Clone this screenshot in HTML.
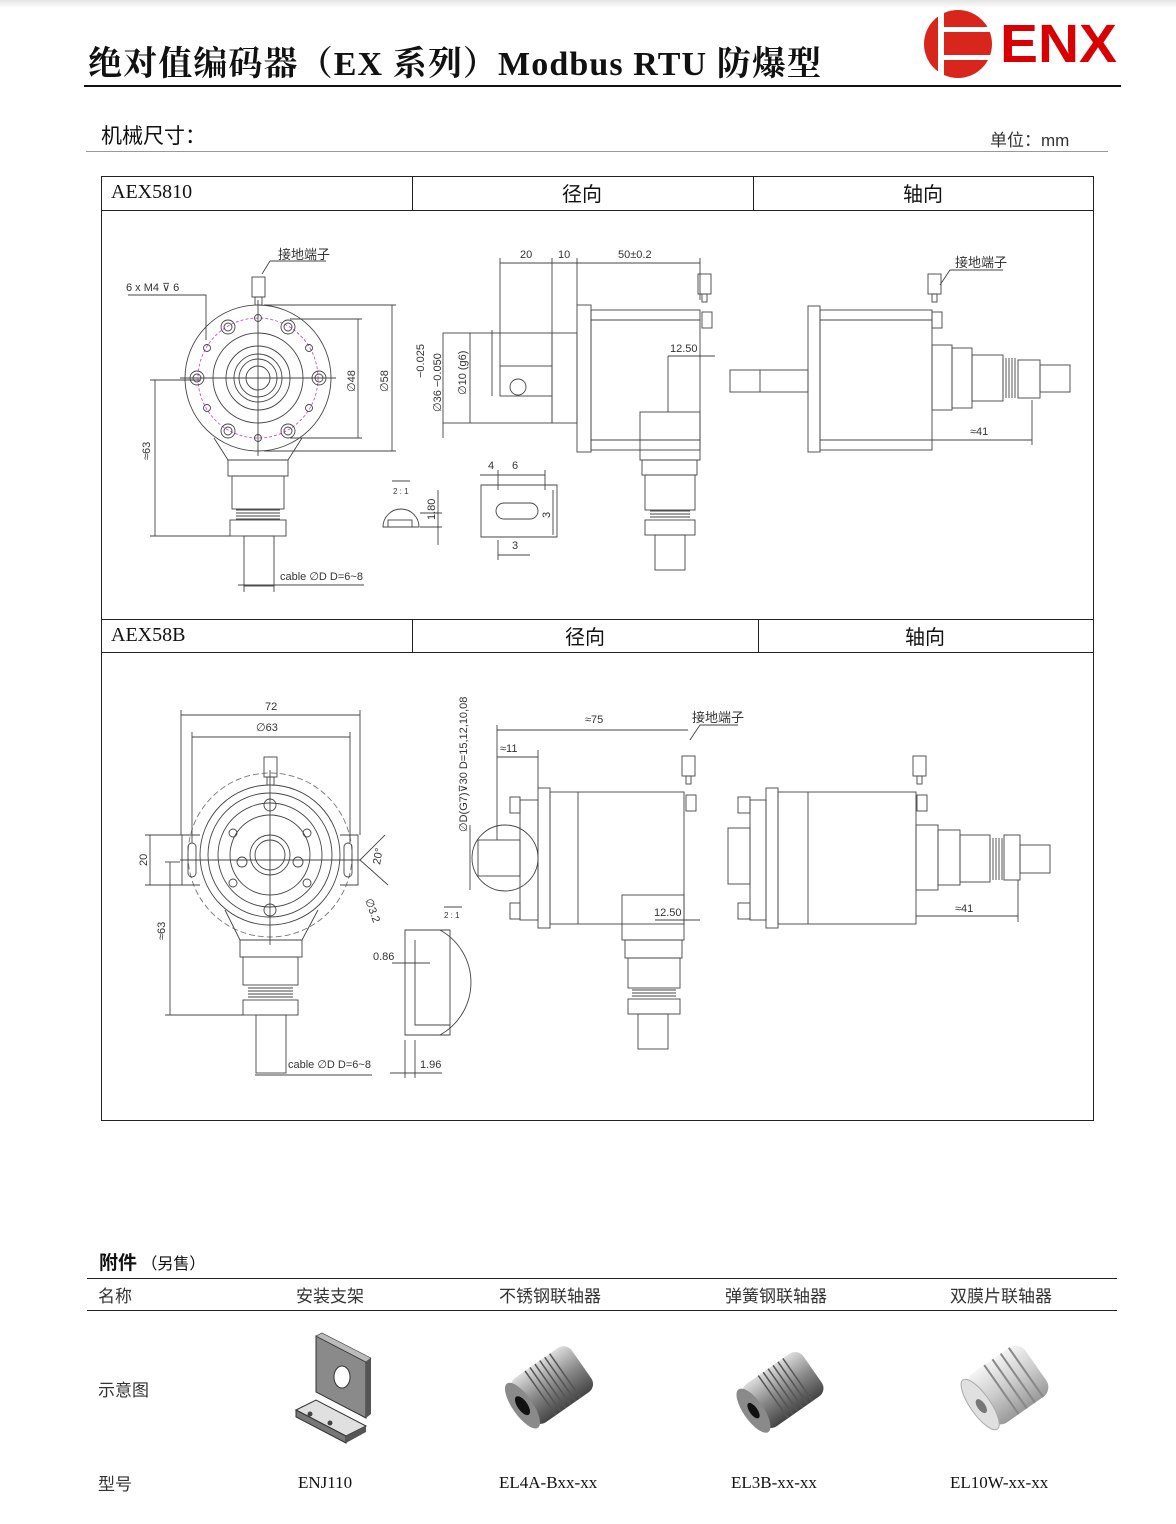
<!DOCTYPE html>
<html><head><meta charset="utf-8">
<style>
html,body{margin:0;padding:0;background:#fff;}
body{width:1176px;height:1524px;position:relative;overflow:hidden;font-family:"Liberation Serif","Noto Serif CJK SC",serif;}
svg{position:absolute;left:0;top:0;}
.t{position:absolute;white-space:nowrap;color:#111;}
</style></head><body>
<div style="position:absolute;left:0;top:0;width:1176px;height:8px;background:linear-gradient(#e4e4e4,#fff)"></div>
<div class="t" style="left:88px;top:36px;font-size:34px;letter-spacing:1.1px;font-weight:bold;font-family:'Liberation Serif','Noto Serif CJK SC',serif;">绝对值编码器（EX 系列）Modbus RTU 防爆型</div>
<div class="t" style="left:101px;top:120px;font-size:21px;font-family:'Liberation Sans','Noto Sans CJK SC',sans-serif;">机械尺寸：</div>
<div class="t" style="left:990px;top:126px;font-size:17px;color:#333;font-family:'Liberation Sans','Noto Sans CJK SC',sans-serif;">单位：mm</div>

<div class="t" style="left:111px;top:181px;font-size:20px;">AEX5810</div>
<div class="t" style="left:562px;top:178px;font-size:20px;font-family:'Noto Sans CJK SC',sans-serif;">径向</div>
<div class="t" style="left:903px;top:178px;font-size:20px;font-family:'Noto Sans CJK SC',sans-serif;">轴向</div>
<div class="t" style="left:111px;top:624px;font-size:20px;">AEX58B</div>
<div class="t" style="left:565px;top:621px;font-size:20px;font-family:'Noto Sans CJK SC',sans-serif;">径向</div>
<div class="t" style="left:905px;top:621px;font-size:20px;font-family:'Noto Sans CJK SC',sans-serif;">轴向</div>

<div class="t" style="left:99px;top:1248px;font-size:19px;font-weight:bold;font-family:'Noto Sans CJK SC',sans-serif;">附件 <span style="font-size:16px;font-weight:normal">（另售）</span></div>
<div class="t" style="left:98px;top:1282px;font-size:17px;color:#333;font-family:'Noto Sans CJK SC',sans-serif;">名称</div>
<div class="t" style="left:296px;top:1282px;font-size:17px;color:#333;font-family:'Noto Sans CJK SC',sans-serif;">安装支架</div>
<div class="t" style="left:499px;top:1282px;font-size:17px;color:#333;font-family:'Noto Sans CJK SC',sans-serif;">不锈钢联轴器</div>
<div class="t" style="left:725px;top:1282px;font-size:17px;color:#333;font-family:'Noto Sans CJK SC',sans-serif;">弹簧钢联轴器</div>
<div class="t" style="left:950px;top:1282px;font-size:17px;color:#333;font-family:'Noto Sans CJK SC',sans-serif;">双膜片联轴器</div>
<div class="t" style="left:98px;top:1376px;font-size:17px;color:#333;font-family:'Noto Sans CJK SC',sans-serif;">示意图</div>
<div class="t" style="left:98px;top:1470px;font-size:17px;color:#333;font-family:'Noto Sans CJK SC',sans-serif;">型号</div>
<div class="t" style="left:298px;top:1473px;font-size:17px;">ENJ110</div>
<div class="t" style="left:499px;top:1473px;font-size:17px;">EL4A-Bxx-xx</div>
<div class="t" style="left:731px;top:1473px;font-size:17px;">EL3B-xx-xx</div>
<div class="t" style="left:950px;top:1473px;font-size:17px;">EL10W-xx-xx</div>

<svg width="1176" height="1524" viewBox="0 0 1176 1524">
<defs>
<linearGradient id="met" x1="0" y1="0" x2="0" y2="1"><stop offset="0" stop-color="#ddd"/><stop offset=".5" stop-color="#888"/><stop offset="1" stop-color="#444"/></linearGradient>
<linearGradient id="met2" x1="0" y1="0" x2="0" y2="1"><stop offset="0" stop-color="#f4f4f4"/><stop offset=".5" stop-color="#ccc"/><stop offset="1" stop-color="#999"/></linearGradient>
</defs>
<rect x="84" y="85" width="1037" height="2" fill="#111"/>
<line x1="86" y1="151.5" x2="1108" y2="151.5" stroke="#999"/>
<circle cx="958" cy="44" r="34" fill="#d9261c"/>
<rect x="938" y="8" width="6" height="72" fill="#fff"/>
<rect x="944" y="27" width="50" height="5" fill="#fff"/>
<rect x="944" y="55" width="50" height="5" fill="#fff"/>
<text x="1000" y="62" font-family="Liberation Sans,sans-serif" font-weight="bold" font-size="54" fill="#d80000" textLength="117" lengthAdjust="spacingAndGlyphs">ENX</text>
<g fill="none" stroke="#222" stroke-width="1">
<rect x="101.5" y="176.5" width="992" height="944"/>
<line x1="101" y1="210.5" x2="1094" y2="210.5"/>
<line x1="412.5" y1="176" x2="412.5" y2="210"/>
<line x1="753.5" y1="176" x2="753.5" y2="210"/>
<line x1="101" y1="619.5" x2="1094" y2="619.5"/>
<line x1="101" y1="652.5" x2="1094" y2="652.5"/>
<line x1="412.5" y1="619" x2="412.5" y2="652"/>
<line x1="758.5" y1="619" x2="758.5" y2="652"/>
</g>
<g stroke="#222" stroke-width="1">
<line x1="87" y1="1278.5" x2="1117" y2="1278.5"/>
<line x1="87" y1="1310.5" x2="1117" y2="1310.5"/>
</g>

<g fill="none" stroke="#444" stroke-width="0.9" font-family="Liberation Sans,sans-serif">
<circle cx="258" cy="378" r="73"/>
<circle cx="258" cy="378" r="60" stroke="#d050d0" stroke-dasharray="3,2"/>
<circle cx="258" cy="378" r="45"/>
<circle cx="258" cy="378" r="32"/>
<circle cx="258" cy="378" r="24"/>
<circle cx="258" cy="378" r="19"/>
<circle cx="258" cy="378" r="12"/>
<g>
<circle cx="228" cy="327" r="7"/><circle cx="228" cy="327" r="4"/>
<circle cx="288" cy="327" r="7"/><circle cx="288" cy="327" r="4"/>
<circle cx="197" cy="378" r="7"/><circle cx="197" cy="378" r="4"/>
<circle cx="319" cy="378" r="7"/><circle cx="319" cy="378" r="4"/>
<circle cx="228" cy="431" r="7"/><circle cx="228" cy="431" r="4"/>
<circle cx="288" cy="431" r="7"/><circle cx="288" cy="431" r="4"/>
<circle cx="258" cy="318" r="3.5"/><circle cx="258" cy="438" r="3.5"/>
<circle cx="207" cy="348" r="3.5"/><circle cx="309" cy="348" r="3.5"/>
<circle cx="207" cy="408" r="3.5"/><circle cx="309" cy="408" r="3.5"/>
</g>
<line x1="180" y1="378" x2="336" y2="378"/><line x1="258" y1="300" x2="258" y2="456"/>
<rect x="252" y="277" width="13" height="20"/><rect x="255" y="297" width="7" height="8"/>
<path d="M214 438 L228 460 L288 460 L302 438"/>
<rect x="228" y="460" width="60" height="16"/>
<rect x="232" y="476" width="52" height="33"/>
<path d="M236 510 h44 M236 513 h44 M236 516 h44 M236 519 h44"/>
<rect x="230" y="520" width="56" height="16"/>
<rect x="244" y="536" width="30" height="50"/>
<line x1="150" y1="380" x2="200" y2="380"/><line x1="155" y1="380" x2="155" y2="536"/><line x1="150" y1="536" x2="230" y2="536"/>
<line x1="290" y1="319" x2="362" y2="319"/><line x1="290" y1="438" x2="362" y2="438"/><line x1="358" y1="319" x2="358" y2="438"/>
<line x1="264" y1="305" x2="396" y2="305"/><line x1="264" y1="451" x2="396" y2="451"/><line x1="392" y1="305" x2="392" y2="451"/>
<path d="M128 295 H206 V340"/>
<path d="M270 261 H326 M270 261 L262 274"/>
<line x1="244" y1="585" x2="244" y2="592"/><line x1="274" y1="585" x2="274" y2="592"/><line x1="238" y1="585" x2="364" y2="585"/>
<path d="M383 527 A18 18 0 0 1 419 527 Z"/><rect x="388" y="520" width="24" height="7"/>
<line x1="438" y1="490" x2="438" y2="545"/><line x1="420" y1="513" x2="442" y2="513"/><line x1="420" y1="527" x2="442" y2="527"/>
<line x1="392" y1="481" x2="410" y2="481"/>
<path d="M481 485 H557 V537 H481 Z"/>
<path d="M504 503 h26 a8 8 0 0 1 0 16 h-26 a8 8 0 0 1 0 -16 Z"/>
<line x1="480" y1="475" x2="545" y2="475"/><line x1="498" y1="470" x2="498" y2="490"/><line x1="545" y1="470" x2="545" y2="490"/>
<line x1="530" y1="555" x2="498" y2="555"/><line x1="498" y1="540" x2="498" y2="560"/>
<line x1="553" y1="490" x2="553" y2="535"/>
<rect x="443" y="333" width="109" height="90"/>
<rect x="500" y="366" width="52" height="30"/>
<circle cx="518" cy="387" r="8"/>
<rect x="552" y="333" width="25" height="90"/>
<rect x="577" y="305" width="14" height="147"/>
<rect x="591" y="310" width="109" height="140"/>
<line x1="591" y1="320" x2="700" y2="320"/><line x1="591" y1="440" x2="700" y2="440"/>
<rect x="640" y="412" width="60" height="48"/>
<rect x="642" y="460" width="55" height="15"/>
<rect x="645" y="475" width="50" height="35"/>
<path d="M650 511 h40 M650 514 h40 M650 517 h40"/>
<rect x="645" y="520" width="50" height="15"/>
<rect x="655" y="535" width="30" height="35"/>
<rect x="698" y="274" width="13" height="20"/><rect x="702" y="294" width="5" height="8"/>
<rect x="702" y="312" width="10" height="16"/>
<line x1="500" y1="258" x2="500" y2="366"/><line x1="552" y1="258" x2="552" y2="333"/><line x1="577" y1="258" x2="577" y2="305"/><line x1="700" y1="258" x2="700" y2="300"/>
<line x1="500" y1="263" x2="700" y2="263"/>
<line x1="443" y1="423" x2="443" y2="438"/>
<line x1="470" y1="333" x2="470" y2="423"/>
<line x1="492" y1="330" x2="492" y2="396"/>
<line x1="668" y1="356" x2="715" y2="356"/><line x1="668" y1="356" x2="668" y2="412"/>
<rect x="730" y="370" width="78" height="22"/>
<line x1="760" y1="370" x2="760" y2="392"/>
<rect x="808" y="306" width="12" height="146"/>
<rect x="820" y="310" width="112" height="140"/>
<line x1="820" y1="320" x2="932" y2="320"/><line x1="820" y1="440" x2="932" y2="440"/>
<rect x="932" y="345" width="20" height="65"/>
<rect x="952" y="348" width="20" height="60"/>
<rect x="972" y="355" width="31" height="46"/>
<path d="M1003 358 v40 M1006 358 v40 M1009 358 v40 M1012 358 v40 M1015 358 v40"/>
<rect x="1018" y="360" width="22" height="38"/>
<rect x="1040" y="365" width="30" height="27"/>
<rect x="928" y="274" width="13" height="20"/><rect x="932" y="294" width="5" height="8"/>
<rect x="932" y="312" width="10" height="16"/>
<path d="M940 285 L950 270 H1003"/>
<line x1="932" y1="440" x2="1032" y2="440"/><line x1="1032" y1="400" x2="1032" y2="445"/>
</g>
<g font-family="Liberation Sans,sans-serif" font-size="11" fill="#333">
<text x="278" y="259" font-family="Noto Sans CJK SC,sans-serif" font-size="13">接地端子</text>
<text x="126" y="291">6 x  M4 ⊽ 6</text>
<text x="955" y="267" font-family="Noto Sans CJK SC,sans-serif" font-size="13">接地端子</text>
<text x="520" y="258">20</text><text x="558" y="258">10</text><text x="618" y="258">50±0.2</text>
<text x="670" y="352">12.50</text>
<text x="970" y="435">≈41</text>
<text x="280" y="580">cable ∅D  D=6~8</text>
<text x="488" y="469">4</text><text x="512" y="469">6</text><text x="512" y="549">3</text>
<text transform="translate(150,460) rotate(-90)">≈63</text>
<text transform="translate(355,392) rotate(-90)">∅48</text>
<text transform="translate(388,392) rotate(-90)">∅58</text>
<text transform="translate(441,412) rotate(-90)">∅36 −0.050</text>
<text transform="translate(424,378) rotate(-90)">−0.025</text>
<text transform="translate(466,395) rotate(-90)">∅10 (g6)</text>
<text transform="translate(435,520) rotate(-90)">1.80</text>
<text transform="translate(550,518) rotate(-90)">3</text>
<text x="393" y="494" font-size="8">2 : 1</text>
</g>

<g fill="none" stroke="#444" stroke-width="0.9">
<circle cx="270" cy="855" r="70"/>
<circle cx="270" cy="855" r="62"/>
<circle cx="270" cy="855" r="52"/>
<circle cx="270" cy="855" r="40"/>
<circle cx="270" cy="855" r="20"/>
<circle cx="270" cy="855" r="15"/>
<circle cx="270" cy="855" r="82" stroke-dasharray="6,3" stroke="#777"/>
<path d="M200 835 h-18 v50 h18 M340 835 h18 v50 h-18"/>
<rect x="188" y="843" width="8" height="34" rx="4"/><rect x="344" y="843" width="8" height="34" rx="4"/>
<circle cx="270" cy="805" r="6"/><circle cx="270" cy="910" r="6"/>
<circle cx="233" cy="833" r="4"/><circle cx="307" cy="833" r="4"/><circle cx="233" cy="883" r="4"/><circle cx="307" cy="883" r="4"/>
<circle cx="298" cy="862" r="5"/><circle cx="242" cy="862" r="5"/>
<line x1="180" y1="860" x2="360" y2="860"/><line x1="270" y1="770" x2="270" y2="945"/>
<rect x="264" y="757" width="13" height="20"/><rect x="267" y="777" width="7" height="8"/>
<path d="M225 910 L240 940 H302 L318 910"/>
<rect x="240" y="940" width="62" height="17"/>
<rect x="243" y="957" width="55" height="28"/>
<path d="M248 988 h45 M248 991 h45 M248 994 h45 M248 997 h45"/>
<rect x="243" y="1000" width="55" height="15"/>
<rect x="256" y="1015" width="30" height="58"/>
<line x1="181" y1="715" x2="360" y2="715"/><line x1="181" y1="710" x2="181" y2="835"/><line x1="360" y1="710" x2="360" y2="835"/>
<line x1="192" y1="737" x2="350" y2="737"/><line x1="192" y1="732" x2="192" y2="843"/><line x1="350" y1="732" x2="350" y2="843"/>
<line x1="145" y1="835" x2="200" y2="835"/><line x1="145" y1="885" x2="200" y2="885"/><line x1="150" y1="835" x2="150" y2="885"/>
<line x1="165" y1="862" x2="180" y2="862"/><line x1="170" y1="862" x2="170" y2="1015"/><line x1="165" y1="1015" x2="243" y2="1015"/>
<line x1="255" y1="1075" x2="372" y2="1075"/>
<path d="M360 860 L385 835 M360 860 L388 885"/>
<path d="M405 930 h45 v105 h-45 Z"/><path d="M415 940 v85 h35"/>
<path d="M440 930 A60 60 0 0 1 440 1035"/>
<line x1="392" y1="963" x2="430" y2="963"/>
<line x1="390" y1="1073" x2="442" y2="1073"/><line x1="405" y1="1040" x2="405" y2="1078"/><line x1="415" y1="1040" x2="415" y2="1078"/>
<line x1="444" y1="907" x2="462" y2="907"/>
<circle cx="505" cy="858" r="33"/>
<rect x="520" y="800" width="18" height="120"/>
<rect x="538" y="788" width="12" height="140"/>
<rect x="550" y="792" width="134" height="132"/>
<line x1="578" y1="792" x2="578" y2="924"/>
<rect x="510" y="797" width="10" height="16"/><rect x="510" y="903" width="10" height="16"/>
<rect x="478" y="840" width="42" height="36"/>
<rect x="622" y="895" width="62" height="45"/>
<rect x="625" y="940" width="57" height="18"/>
<rect x="628" y="958" width="52" height="30"/>
<path d="M632 990 h44 M632 993 h44 M632 996 h44"/>
<rect x="628" y="999" width="52" height="15"/>
<rect x="638" y="1014" width="30" height="35"/>
<rect x="682" y="756" width="13" height="20"/><rect x="686" y="776" width="5" height="8"/>
<rect x="686" y="795" width="10" height="16"/>
<line x1="497" y1="725" x2="497" y2="840"/><line x1="497" y1="730" x2="688" y2="730"/>
<line x1="497" y1="757" x2="538" y2="757"/><line x1="538" y1="750" x2="538" y2="788"/>
<line x1="470" y1="825" x2="470" y2="890"/>
<path d="M690 740 L700 725 H738"/>
<line x1="655" y1="920" x2="700" y2="920"/>
<rect x="728" y="828" width="22" height="56"/>
<rect x="738" y="797" width="12" height="16"/><rect x="738" y="903" width="12" height="16"/>
<rect x="750" y="800" width="16" height="120"/>
<rect x="766" y="788" width="12" height="140"/>
<rect x="778" y="792" width="138" height="132"/>
<line x1="808" y1="792" x2="808" y2="924"/>
<rect x="916" y="825" width="22" height="65"/>
<rect x="938" y="830" width="22" height="55"/>
<rect x="960" y="835" width="30" height="47"/>
<path d="M990 838 v42 M993 838 v42 M996 838 v42 M999 838 v42 M1002 838 v42"/>
<rect x="1004" y="835" width="16" height="45"/>
<rect x="1020" y="845" width="30" height="28"/>
<rect x="913" y="756" width="13" height="20"/><rect x="917" y="776" width="5" height="8"/>
<rect x="917" y="795" width="10" height="16"/>
<line x1="916" y1="916" x2="1018" y2="916"/><line x1="1018" y1="880" x2="1018" y2="922"/>
</g>
<g font-family="Liberation Sans,sans-serif" font-size="11" fill="#333">
<text x="265" y="710">72</text><text x="256" y="731">∅63</text>
<text x="585" y="723">≈75</text><text x="500" y="752">≈11</text>
<text x="692" y="722" font-family="Noto Sans CJK SC,sans-serif" font-size="13">接地端子</text>
<text x="654" y="916">12.50</text>
<text x="955" y="912">≈41</text>
<text x="373" y="960">0.86</text><text x="420" y="1068">1.96</text>
<text x="288" y="1068">cable ∅D  D=6~8</text>
<text transform="translate(147,866) rotate(-90)">20</text>
<text transform="translate(165,940) rotate(-90)">≈63</text>
<text transform="translate(380,865) rotate(-80)">20°</text>
<text transform="translate(365,900) rotate(70)">∅3.2</text>
<text transform="translate(467,832) rotate(-90)">∅D(G7)⊽30  D=15,12,10,08</text>
<text x="444" y="918" font-size="8">2 : 1</text>
</g>

<g>
<polygon points="316,1336 366,1362 366,1418 316,1392" fill="#8a8a8a" stroke="#333"/>
<polygon points="316,1336 322,1333 371,1358 366,1362" fill="#bbb" stroke="#333" stroke-width=".6"/>
<polygon points="366,1362 371,1358 371,1414 366,1418" fill="#555"/>
<ellipse cx="342" cy="1377" rx="8" ry="11" fill="#fff" stroke="#333"/>
<polygon points="296,1410 316,1400 366,1426 346,1436" fill="#e0e0e0" stroke="#333"/>
<polygon points="296,1410 346,1436 346,1443 296,1417" fill="#777" stroke="#333"/>
<polygon points="346,1436 366,1426 366,1432 346,1443" fill="#555"/>
<circle cx="310" cy="1414" r="2.5" fill="#444"/><circle cx="330" cy="1423" r="2.5" fill="#444"/>
</g>
<g transform="translate(552,1385) rotate(-35)">
<rect x="-36" y="-27" width="72" height="54" rx="10" fill="url(#met)"/>
<path d="M-14 -27 v54 M-8 -27 v54 M-2 -27 v54 M4 -27 v54 M10 -27 v54 M16 -27 v54" stroke="#555" stroke-width="1.5"/>
<ellipse cx="-36" cy="0" rx="10" ry="27" fill="#8a8a8a"/>
<ellipse cx="-36" cy="0" rx="5" ry="11" fill="#111"/>
</g>
<g transform="translate(783,1390) rotate(-35)">
<rect x="-36" y="-26" width="72" height="52" rx="10" fill="url(#met)"/>
<path d="M-12 -26 v52 M-6 -26 v52 M0 -26 v52 M6 -26 v52 M12 -26 v52 M18 -26 v52" stroke="#555" stroke-width="1.5"/>
<ellipse cx="-36" cy="0" rx="10" ry="26" fill="#8a8a8a"/>
<ellipse cx="-36" cy="0" rx="4" ry="9" fill="#111"/>
</g>
<g transform="translate(1008,1385) rotate(-35)">
<rect x="-34" y="-30" width="68" height="60" rx="12" fill="url(#met2)"/>
<path d="M-8 -30 v60 M2 -30 v60 M12 -30 v60 M22 -30 v60" stroke="#888" stroke-width="2"/>
<ellipse cx="-34" cy="0" rx="10" ry="30" fill="#e0e0e0" stroke="#aaa"/>
<ellipse cx="-34" cy="2" rx="4" ry="8" fill="#777"/>
</g>
</svg>
</body></html>
